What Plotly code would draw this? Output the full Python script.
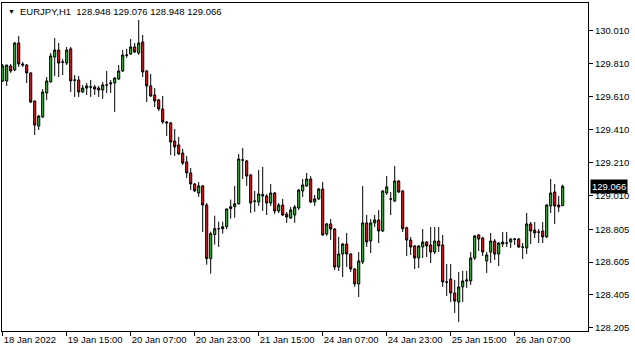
import plotly.graph_objects as go

symbol_text = "EURJPY,H1  128.948 129.076 128.948 129.066"
last_price = 129.066

opens = [129.706,129.706,129.797,129.773,129.937,129.809,129.803,129.755,129.584,129.432,
         129.487,129.633,129.700,129.852,129.894,129.822,129.815,129.901,129.712,129.712,
         129.639,129.663,129.670,129.670,129.663,129.651,129.682,129.688,129.694,129.718,
         129.767,129.864,129.870,129.913,129.876,129.943,129.767,129.676,129.621,129.591,
         129.536,129.457,129.451,129.341,129.317,129.268,129.214,129.147,129.080,129.025,
         129.068,128.952,128.626,128.772,128.808,128.808,128.820,128.930,128.942,128.960,
         129.226,129.220,129.135,128.976,128.970,129.007,129.007,128.964,129.025,128.916,
         128.952,128.897,128.873,128.891,128.934,129.037,129.068,129.110,128.970,128.989,
         129.049,128.776,128.837,128.806,128.575,128.654,128.715,128.654,128.563,128.472,
         128.606,128.843,128.733,128.843,128.861,128.794,129.025,128.989,128.976,129.098,
         129.037,128.814,128.739,128.703,128.630,128.697,128.727,128.709,128.666,128.733,
         128.709,128.484,128.502,128.417,128.362,128.454,128.490,128.490,128.630,128.770,
         128.751,128.612,128.666,128.733,128.654,128.715,128.721,128.727,128.745,128.745,
         128.697,128.691,128.837,128.800,128.788,128.794,128.758,128.946,129.031,128.952,
         128.948]
highs = [129.809,129.803,129.809,129.943,129.980,129.822,129.809,129.758,129.587,129.499,
         129.657,129.730,129.876,129.967,129.937,129.840,129.913,129.913,129.742,129.736,
         129.682,129.694,129.712,129.682,129.676,129.700,129.767,129.712,129.730,129.803,
         129.894,129.901,129.961,129.937,130.077,129.986,129.773,129.749,129.663,129.597,
         129.615,129.463,129.457,129.414,129.366,129.293,129.250,129.177,129.086,129.092,
         129.074,128.964,128.790,128.887,128.851,128.851,128.930,128.985,129.068,129.262,
         129.299,129.226,129.141,129.037,129.165,129.183,129.019,129.080,129.031,128.964,
         128.989,128.910,128.940,128.952,129.049,129.110,129.147,129.128,129.013,129.056,
         129.092,128.843,128.867,128.812,128.758,128.721,128.782,128.660,128.569,128.666,
         129.068,128.891,128.867,128.891,128.922,129.043,129.128,129.031,129.189,129.104,
         129.043,128.820,128.758,128.709,128.709,128.806,128.733,128.818,128.818,128.818,
         128.770,128.593,128.593,128.496,128.545,128.551,128.551,128.666,128.770,128.776,
         128.758,128.666,128.782,128.745,128.727,128.788,128.788,128.751,128.751,128.751,
         128.721,128.904,128.849,128.849,128.806,128.849,128.958,129.110,129.080,129.007,
         129.076]
lows = [129.700,129.676,129.755,129.767,129.791,129.791,129.694,129.572,129.378,129.408,
        129.481,129.591,129.697,129.736,129.730,129.742,129.803,129.639,129.609,129.609,
        129.633,129.621,129.609,129.621,129.609,129.597,129.633,129.633,129.518,129.712,
        129.761,129.846,129.864,129.876,129.864,129.730,129.578,129.609,129.548,129.524,
        129.445,129.372,129.256,129.250,129.256,129.195,129.116,129.043,129.031,129.001,
        128.788,128.589,128.535,128.711,128.697,128.778,128.805,128.869,128.875,128.954,
        129.110,129.068,128.903,128.910,128.946,128.916,128.891,128.946,128.897,128.903,
        128.885,128.843,128.867,128.843,128.922,129.001,129.062,128.964,128.946,128.982,
        128.764,128.764,128.739,128.557,128.551,128.514,128.575,128.545,128.454,128.393,
        128.593,128.697,128.660,128.818,128.721,128.788,129.013,128.891,128.970,129.025,
        128.788,128.642,128.648,128.563,128.569,128.630,128.636,128.599,128.654,128.666,
        128.454,128.399,128.362,128.296,128.241,128.362,128.448,128.466,128.618,128.672,
        128.642,128.539,128.599,128.618,128.581,128.697,128.697,128.691,128.709,128.691,
        128.624,128.654,128.715,128.751,128.721,128.721,128.751,128.903,128.837,128.910,
        128.948]
closes = [129.797,129.803,129.767,129.937,129.809,129.803,129.755,129.578,129.438,129.493,
          129.639,129.706,129.858,129.894,129.815,129.820,129.894,129.706,129.711,129.639,
          129.663,129.676,129.669,129.657,129.651,129.682,129.681,129.694,129.724,129.767,
          129.864,129.863,129.913,129.882,129.937,129.761,129.676,129.615,129.584,129.536,
          129.457,129.451,129.335,129.305,129.262,129.207,129.147,129.080,129.038,129.068,
          128.952,128.626,128.778,128.808,128.807,128.820,128.928,128.942,128.960,129.232,
          129.225,129.128,128.964,128.975,129.019,129.015,128.964,129.025,128.916,128.952,
          128.891,128.879,128.922,128.940,129.043,129.074,129.110,128.970,128.989,129.049,
          128.770,128.837,128.806,128.575,128.654,128.715,128.654,128.563,128.472,128.612,
          128.843,128.727,128.843,128.861,128.794,129.037,129.062,128.988,129.098,129.031,
          128.808,128.739,128.697,128.630,128.703,128.727,128.703,128.666,128.733,128.703,
          128.484,128.483,128.417,128.368,128.454,128.490,128.496,128.630,128.764,128.745,
          128.666,128.648,128.733,128.654,128.721,128.727,128.720,128.745,128.744,128.697,
          128.696,128.837,128.794,128.782,128.787,128.758,128.952,129.025,128.946,128.940,
          129.066]

x_tick_bars = [0, 16, 32, 48, 64, 80, 96, 112, 128]
x_tick_labels = ["18 Jan 2022", "19 Jan 15:00", "20 Jan 07:00", "20 Jan 23:00", "21 Jan 15:00",
                 "24 Jan 07:00", "24 Jan 23:00", "25 Jan 15:00", "26 Jan 07:00"]
y_tick_vals = [130.010, 129.810, 129.610, 129.410, 129.210, 129.010, 128.805, 128.605, 128.405, 128.205]
y_tick_labels = ["130.010", "129.810", "129.610", "129.410", "129.210", "129.010",
                 "128.805", "128.605", "128.405", "128.205"]

bars = list(range(len(opens)))
FONT = "Liberation Sans"

fig = go.Figure(go.Candlestick(
    x=bars, open=opens, high=highs, low=lows, close=closes,
    increasing=dict(line=dict(color="black", width=1), fillcolor="#3dbb3d"),
    decreasing=dict(line=dict(color="black", width=1), fillcolor="#dc1e1e"),
    whiskerwidth=0, showlegend=False,
))

fig.update_layout(
    width=635, height=352,
    margin=dict(l=2, r=47, t=3, b=21),
    paper_bgcolor="white", plot_bgcolor="white",
    boxgap=0.25,
    font=dict(family=FONT, size=9.5, color="black"),
    xaxis=dict(
        range=[-0.175, 146.325], rangeslider=dict(visible=False),
        tickmode="array", tickvals=x_tick_bars, ticktext=x_tick_labels,
        ticks="outside", ticklen=4, tickcolor="black", ticklabelposition="outside right",
        showgrid=False, zeroline=False, showline=True, linecolor="black", linewidth=1, mirror=True,
        tickfont=dict(family=FONT, size=9.5, color="black"),
    ),
    yaxis=dict(
        range=[128.186, 130.180], side="right",
        tickmode="array", tickvals=y_tick_vals, ticktext=y_tick_labels,
        ticks="outside", ticklen=4, tickcolor="black",
        showgrid=False, zeroline=False, showline=True, linecolor="black", linewidth=1, mirror=True,
        tickfont=dict(family=FONT, size=9.5, color="black"),
    ),
    annotations=[
        dict(text="▼", xref="paper", yref="paper", x=0, y=1, xanchor="left", yanchor="middle",
             xshift=4, yshift=-8, showarrow=False, font=dict(family=FONT, size=7, color="black")),
        dict(text=symbol_text, xref="paper", yref="paper", x=0, y=1, xanchor="left", yanchor="middle",
             xshift=16, yshift=-8, showarrow=False, font=dict(family=FONT, size=9.5, color="black")),
        dict(text=f"{last_price:.3f}", xref="paper", yref="y", x=1, y=last_price,
             xanchor="left", yanchor="middle", xshift=2, showarrow=False,
             bgcolor="black", borderpad=1, font=dict(family=FONT, size=9.5, color="white")),
    ],
)

fig.write_html("out.html")
